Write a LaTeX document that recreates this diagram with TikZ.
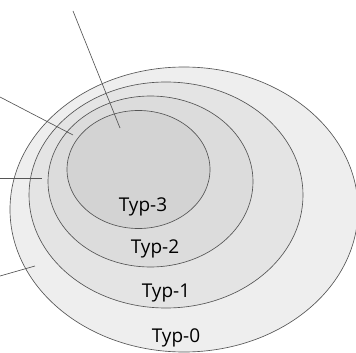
\documentclass[tikz,border=0pt]{standalone}
\usepackage{fontspec}
\setmainfont{Open Sans}
\definecolor{ringA}{HTML}{EEEEEE}
\definecolor{ringB}{HTML}{E4E4E4}
\definecolor{ringC}{HTML}{DCDCDC}
\definecolor{ringD}{HTML}{D3D3D3}
\definecolor{edge}{HTML}{555555}
\tikzset{
  setbox/.style={draw=edge, line width=0.65pt},
  pointer/.style={draw=edge, line width=0.65pt},
  typlabel/.style={font=\fontsize{19}{22}\selectfont, anchor=base, inner sep=0pt}
}
\begin{document}
\begin{tikzpicture}[x=1pt,y=-1pt]
\useasboundingbox (0,0) rectangle (356,353);
% nested language classes
\draw[setbox, fill=ringA] (184,209.5) ellipse [x radius=174, y radius=142.5];
\draw[setbox, fill=ringB] (166,195) ellipse [x radius=137, y radius=113];
\draw[setbox, fill=ringC] (150.5,181.5) ellipse [x radius=102.5, y radius=85.5];
\draw[setbox, fill=ringD] (138.5,169.5) ellipse [x radius=71.5, y radius=59];
% class names
\node[typlabel] (t3) at (143,211) {Typ-3};
\node[typlabel] (t2) at (155,253) {Typ-2};
\node[typlabel] (t1) at (166,297) {Typ-1};
\node[typlabel] (t0) at (176,342) {Typ-0};
% pointer lines
\coordinate (p3a) at (73,11);   \coordinate (p3b) at (120,128);
\coordinate (p2a) at (0,97);    \coordinate (p2b) at (73,135);
\coordinate (p1a) at (0,178);   \coordinate (p1b) at (42,178);
\coordinate (p0a) at (0,276);   \coordinate (p0b) at (35,266);
\draw[pointer] (p3a) -- (p3b);
\draw[pointer] (p2a) -- (p2b);
\draw[pointer] (p1a) -- (p1b);
\draw[pointer] (p0a) -- (p0b);
\end{tikzpicture}
\end{document}
